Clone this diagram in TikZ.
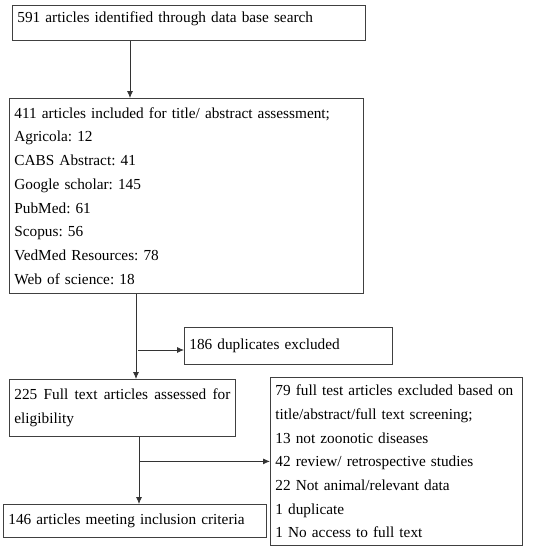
\documentclass[tikz,border=0pt]{standalone}
\usepackage{fontspec}
\setmainfont{Liberation Serif}
\usetikzlibrary{arrows.meta}
\frenchspacing

\begin{document}
\begin{tikzpicture}[x=1pt,y=-1pt,
  box/.style={draw=black!75,line width=0.8pt,anchor=north west,align=left,
    inner xsep=5pt,inner ysep=0pt,font=\fontsize{15.3}{23.7}\selectfont},
  arr/.style={-{Latex[length=7pt,width=6pt]},line width=0.8pt,black!80}]
\useasboundingbox (0,0) rectangle (533,550);
% boxes
\node[box,text width=343pt,minimum height=35pt,text depth=11pt] (search) at (12,5)
  {591 articles identified through data base search};
\node[box,text width=344pt,minimum height=195pt] (screen) at (9,98)
  {411 articles included for title/ abstract assessment;\\ Agricola: 12\\
   CABS Abstract: 41\\ Google scholar: 145\\ PubMed: 61\\ Scopus: 56\\
   VedMed Resources: 78\\ Web of science: 18};
\node[box,text width=198pt,minimum height=37pt] (dup) at (184,327)
  {186 duplicates excluded};
\node[box,align=justify,text width=216pt,minimum height=57pt] (full) at (9,379)
  {225 Full text articles assessed for \mbox{eligibility}};
\node[box,text width=242pt,minimum height=168pt] (excl) at (270,377)
  {79 full test articles excluded based on\\ title/abstract/full text screening;\\
   13 not zoonotic diseases\\ 42 review/ retrospective studies\\
   22 Not animal/relevant data\\ 1 duplicate\\ 1 No access to full text};
\node[box,text width=253pt,minimum height=33pt] (incl) at (3,504)
  {146 articles meeting inclusion criteria};
% arrows
\draw[arr] (130,0 |- search.south) -- (130,0 |- screen.north);
\draw[arr] (136,0 |- screen.south) -- (136,0 |- full.north);
\draw[arr] (138,350) -- (dup.west |- 0,350);
\draw[arr] (139,0 |- full.south) -- (139,0 |- incl.north);
\draw[arr] (139,0 |- excl.west) -- (excl.west);
\end{tikzpicture}
\end{document}
